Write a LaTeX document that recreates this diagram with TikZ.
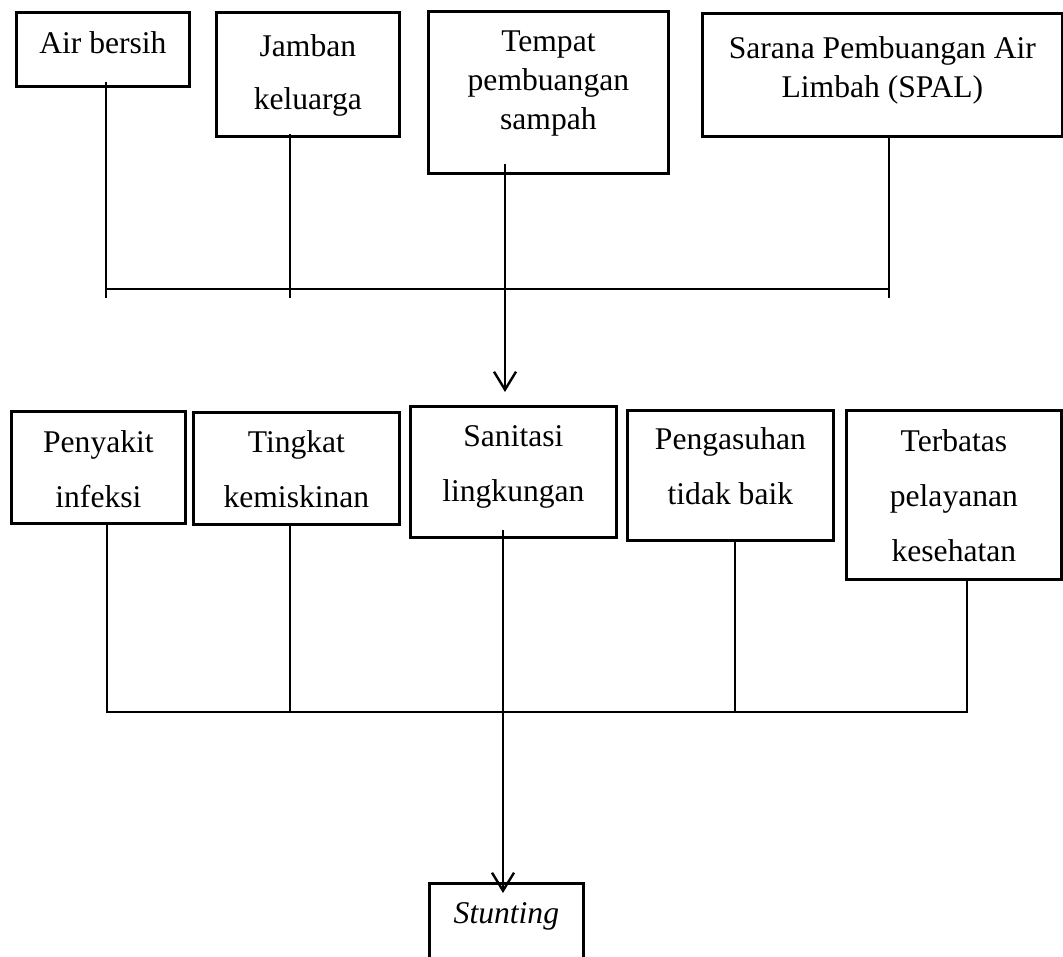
\documentclass[tikz,border=0pt]{standalone}
\usepackage{fontspec}
\setmainfont{Liberation Serif}
\usepackage{tikz}
\usetikzlibrary{arrows.meta,positioning}

% isi kotak: lebar, tinggi, jarak atas, teks
\newcommand{\isikotak}[4]{\parbox[t][#2][t]{#1}{\vspace*{#3}\centering #4}}

\tikzset{
  kotak/.style={draw, line width=2.8pt, inner sep=0pt, anchor=north west},
  satu/.style={font=\fontsize{31.6pt}{39pt}\selectfont},
  dua/.style={font=\fontsize{31.6pt}{55pt}\selectfont},
  garis/.style={line width=2.4pt},
  panah/.style={garis, -{Straight Barb[length=18pt,width=22pt]}}
}

\begin{document}
\begin{tikzpicture}[x=1pt,y=-1pt]
        \useasboundingbox (0,0) rectangle (1063,956);
        \clip (0,0) rectangle (1063,956);
        % baris atas
        \node[kotak, satu] (air) at (15,11) {\isikotak{173pt}{74pt}{19.5pt}{Air bersih}};
        \node[kotak, dua, font=\fontsize{31.6pt}{53pt}\selectfont] (jamban) at (215,11) {\isikotak{183pt}{124pt}{22.5pt}{Jamban\\keluarga}};
        \node[kotak, satu] (sampah) at (427,10) {\isikotak{240pt}{162pt}{19pt}{Tempat\\pembuangan\\sampah}};
        \node[kotak, satu] (spal) at (701,12) {\isikotak{360pt}{123pt}{23pt}{Sarana Pembuangan Air\\Limbah (SPAL)}};
        % baris tengah
        \node[kotak, dua] (infeksi) at (10,410) {\isikotak{174pt}{112pt}{19.5pt}{Penyakit\\infeksi}};
        \node[kotak, dua] (miskin) at (192,411) {\isikotak{206pt}{112pt}{18.5pt}{Tingkat\\kemiskinan}};
        \node[kotak, dua] (sanitasi) at (409,405) {\isikotak{206pt}{131pt}{19.5pt}{Sanitasi\\lingkungan}};
        \node[kotak, dua] (asuh) at (626,409) {\isikotak{206pt}{130pt}{17.5pt}{Pengasuhan\\tidak baik}};
        \node[kotak, dua] (layanan) at (845,409) {\isikotak{215pt}{169pt}{19.5pt}{Terbatas\\pelayanan\\kesehatan}};
        % hasil
        \node[kotak, satu] (stunting) at (428,882) {\isikotak{154pt}{120pt}{19pt}{\textit{Stunting}}};

        % garis penghubung atas
        \coordinate (a1) at (106,289);
        \coordinate (a2) at (290,289);
        \coordinate (a3) at (505,289);
        \coordinate (a4) at (889,289);
        \draw[garis] (a1) -- (a4);
        \draw[garis] ([yshift=6pt]air.south -| a1) -- ([yshift=-9pt]a1);
        \draw[garis] ([yshift=4pt]jamban.south -| a2) -- ([yshift=-9pt]a2);
        \draw[garis] ([yshift=3pt]spal.south -| a4) -- ([yshift=-9pt]a4);
        \draw[panah] ([yshift=11pt]sampah.south -| a3) -- ([yshift=13pt]sanitasi.north -| a3);

        % garis penghubung bawah
        \coordinate (b1) at (107,712);
        \coordinate (b2) at (290,712);
        \coordinate (b3) at (503,712);
        \coordinate (b4) at (735,712);
        \coordinate (b5) at (967,712);
        \draw[garis] (infeksi.south -| b1) -- (b1) -- (b5) -- (layanan.south -| b5);
        \draw[garis] (miskin.south -| b2) -- (b2);
        \draw[garis] (asuh.south -| b4) -- (b4);
        \draw[panah] ([yshift=9pt]sanitasi.south -| b3) -- ([yshift=-11pt]stunting.north -| b3);
\end{tikzpicture}
\end{document}
